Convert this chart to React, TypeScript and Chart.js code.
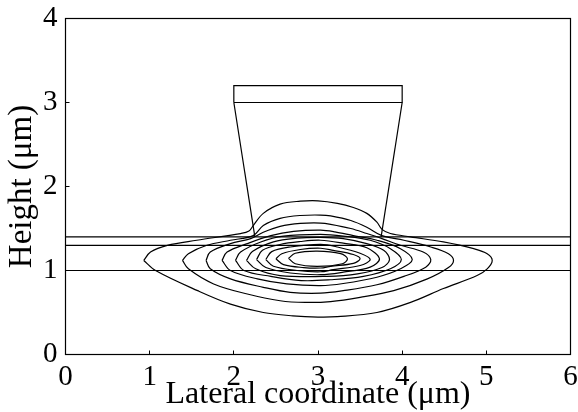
import React, { useEffect, useRef } from "react";
import { Chart, registerables } from "chart.js";

Chart.register(...registerables);

type P = [number, number];

const xTicks = [0, 1, 2, 3, 4, 5, 6];
const yTicks = [0, 1, 2, 3, 4];
const xLabel = "Lateral coordinate (\u03BCm)";
const yLabel = "Height (\u03BCm)";

const layer1: P[] = [[0, 1], [6, 1]];
const layer2: P[] = [[0, 1.3], [6, 1.3]];
const layer3: P[] = [[0, 1.4], [6, 1.4]];
const ridgeLeft: P[] = [[2.25, 1.4], [2.0, 3.0]];
const ridgeRight: P[] = [[3.75, 1.4], [4.0, 3.0]];
const cap: P[] = [[2, 3], [2, 3.2], [4, 3.2], [4, 3], [2, 3]];

const contour1: P[] = [[0.93, 1.12], [1.01, 1.22], [1.21, 1.3], [1.56, 1.36], [2.08, 1.44], [2.18, 1.47], [2.23, 1.535], [2.35, 1.68], [2.55, 1.79], [2.79, 1.825], [3.0, 1.83], [3.23, 1.8], [3.42, 1.75], [3.58, 1.68], [3.7, 1.575], [3.76, 1.49], [3.86, 1.44], [4.1, 1.4], [4.49, 1.34], [4.85, 1.26], [5.01, 1.2], [5.07, 1.12], [5.01, 1.02], [4.89, 0.94], [4.49, 0.785], [4.1, 0.62], [3.7, 0.5], [3.23, 0.45], [3.0, 0.445], [2.7, 0.46], [2.35, 0.5], [1.96, 0.6], [1.57, 0.76], [1.07, 1.0], [0.93, 1.12]];
const contour2: P[] = [[1.39, 1.12], [1.46, 1.2], [1.68, 1.3], [1.96, 1.36], [2.23, 1.415], [2.35, 1.535], [2.55, 1.62], [2.79, 1.655], [3.03, 1.66], [3.15, 1.65], [3.39, 1.595], [3.58, 1.515], [3.76, 1.415], [4.02, 1.36], [4.34, 1.28], [4.55, 1.2], [4.61, 1.12], [4.55, 1.035], [4.3, 0.9], [3.9, 0.76], [3.5, 0.68], [3.15, 0.63], [2.85, 0.62], [2.55, 0.64], [2.16, 0.72], [1.76, 0.84], [1.46, 1.02], [1.39, 1.12]];
const contour3: P[] = [[1.67, 1.12], [1.72, 1.22], [1.96, 1.32], [2.2, 1.38], [2.35, 1.455], [2.55, 1.525], [2.79, 1.56], [3.03, 1.565], [3.15, 1.55], [3.39, 1.5], [3.58, 1.44], [3.76, 1.38], [3.98, 1.3], [4.25, 1.22], [4.34, 1.13], [4.28, 1.04], [4.02, 0.93], [3.7, 0.83], [3.3, 0.76], [3.03, 0.73], [2.67, 0.74], [2.35, 0.8], [1.96, 0.9], [1.72, 1.02], [1.67, 1.12]];
const contour4: P[] = [[1.86, 1.12], [1.92, 1.22], [2.16, 1.32], [2.44, 1.415], [2.71, 1.465], [3.03, 1.48], [3.2, 1.46], [3.42, 1.415], [3.7, 1.36], [3.98, 1.26], [4.12, 1.13], [3.98, 1.02], [3.7, 0.92], [3.3, 0.845], [3.03, 0.82], [2.63, 0.84], [2.28, 0.9], [1.96, 1.0], [1.86, 1.12]];
const contour5: P[] = [[2.02, 1.12], [2.08, 1.22], [2.32, 1.34], [2.59, 1.41], [3.03, 1.43], [3.3, 1.41], [3.62, 1.36], [3.86, 1.26], [3.99, 1.13], [3.86, 1.02], [3.54, 0.93], [3.15, 0.89], [2.8, 0.88], [2.44, 0.93], [2.12, 1.0], [2.02, 1.12]];
const contour6: P[] = [[2.15, 1.12], [2.22, 1.225], [2.47, 1.34], [2.75, 1.385], [3.03, 1.395], [3.3, 1.38], [3.58, 1.32], [3.78, 1.24], [3.85, 1.13], [3.76, 1.035], [3.47, 0.96], [3.11, 0.93], [2.55, 0.94], [2.26, 1.02], [2.15, 1.12]];
const contour7: P[] = [[2.27, 1.13], [2.34, 1.24], [2.55, 1.31], [2.79, 1.345], [3.03, 1.36], [3.3, 1.325], [3.58, 1.27], [3.73, 1.14], [3.62, 1.04], [3.3, 0.98], [3.03, 0.95], [2.67, 0.97], [2.38, 1.035], [2.27, 1.13]];
const contour8: P[] = [[2.38, 1.13], [2.45, 1.225], [2.67, 1.28], [3.03, 1.31], [3.23, 1.28], [3.5, 1.205], [3.62, 1.13], [3.5, 1.06], [3.18, 1.01], [3.03, 0.985], [2.75, 1.0], [2.47, 1.05], [2.38, 1.13]];
const contour9: P[] = [[2.5, 1.14], [2.57, 1.2], [2.79, 1.25], [3.03, 1.265], [3.18, 1.24], [3.42, 1.19], [3.5, 1.14], [3.42, 1.085], [3.15, 1.05], [3.03, 1.03], [2.83, 1.035], [2.59, 1.07], [2.5, 1.14]];
const contour10: P[] = [[2.65, 1.145], [2.73, 1.205], [2.99, 1.23], [3.27, 1.2], [3.35, 1.14], [3.29, 1.08], [2.99, 1.05], [2.73, 1.08], [2.65, 1.145]];

const straight = [layer1, layer2, layer3, ridgeLeft, ridgeRight, cap];
const contours = [contour1, contour2, contour3, contour4, contour5, contour6, contour7, contour8, contour9, contour10];

const INK = "#000000";
const FONT = '"Liberation Serif", serif';

const toSet = (pts: P[], tension: number) => ({
  data: pts.map(([x, y]) => ({ x, y })),
  showLine: true,
  borderColor: INK,
  borderWidth: 1.2,
  pointRadius: 0,
  tension,
  fill: false,
});

const frame = {
  id: "frame",
  afterDraw(chart: any) {
    const { ctx, chartArea: a } = chart;
    ctx.save();
    ctx.strokeStyle = INK;
    ctx.lineWidth = 1.2;
    ctx.strokeRect(a.left, a.top, a.right - a.left, a.bottom - a.top);
    ctx.restore();
  },
};

export default function App() {
  const ref = useRef<HTMLCanvasElement>(null);
  useEffect(() => {
    document.body.style.margin = "0";
    document.body.style.background = "#fff";
    const chart = new Chart(ref.current!, {
      type: "scatter",
      data: {
        datasets: [
          ...straight.map((p) => toSet(p, 0)),
          ...contours.map((p) => toSet(p, 0.35)),
        ],
      },
      plugins: [frame],
      options: {
        animation: false,
        responsive: false,
        layout: { padding: { top: 18.5, right: 7.5, left: 0, bottom: 0 }, autoPadding: false },
        plugins: { legend: { display: false }, tooltip: { enabled: false } },
        scales: {
          x: {
            type: "linear",
            min: 0,
            max: 6,
            afterBuildTicks: (s: any) => { s.ticks = xTicks.map((value) => ({ value })); },
            afterFit: (s: any) => { s.height = 57.5; s.paddingLeft = 0; s.paddingRight = 0; },
            grid: { drawOnChartArea: false, tickLength: -4, color: INK, tickWidth: 1 },
            border: { color: INK },
            ticks: { color: INK, font: { family: FONT, size: 29 }, padding: 9, maxRotation: 0, autoSkip: false },
            title: { display: true, text: xLabel, color: INK, font: { family: FONT, size: 32 }, padding: { top: 0, bottom: -2 } },
          },
          y: {
            type: "linear",
            min: 0,
            max: 4,
            afterBuildTicks: (s: any) => { s.ticks = yTicks.map((value) => ({ value })); },
            afterFit: (s: any) => { s.width = 65.5; s.paddingTop = 0; s.paddingBottom = 0; },
            grid: { drawOnChartArea: false, tickLength: -4, color: INK, tickWidth: 1 },
            border: { color: INK },
            ticks: { color: INK, font: { family: FONT, size: 29 }, padding: 12, autoSkip: false },
            title: { display: true, text: yLabel, color: INK, font: { family: FONT, size: 33 }, padding: { top: 3, bottom: 0 } },
          },
        },
      },
    } as any);
    return () => chart.destroy();
  }, []);
  return <canvas ref={ref} width={578} height={412} style={{ display: "block" }} />;
}
